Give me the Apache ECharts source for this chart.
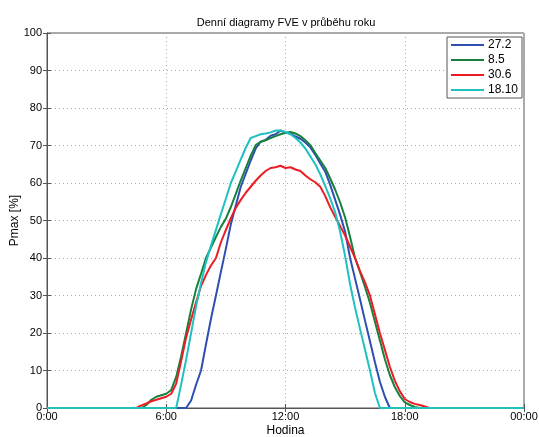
<!DOCTYPE html>
<html>
<head>
<meta charset="utf-8">
<script src="https://cdn.jsdelivr.net/npm/echarts@6/dist/echarts.min.js"></script>
<style>
html,body{margin:0;padding:0;background:#fff;}
#c{width:539px;height:437px;}
</style>
</head>
<body>
<div id="c"></div>
<script>
const chartTitle = 'Denní diagramy FVE v průběhu roku';
const seriesNames = ['27.2', '8.5', '30.6', '18.10'];
const xTickLabels = ['0:00', '6:00', '12:00', '18:00', '00:00'];
const hours = [0,
  4.5, 4.75, 5.0, 5.25, 5.5, 5.75, 6.0, 6.25, 6.5, 6.75,
  7.0, 7.25, 7.5, 7.75, 8.0, 8.25, 8.5, 8.75, 9.0, 9.25,
  9.5, 9.75, 10.0, 10.25, 10.5, 10.75, 11.0, 11.25, 11.5, 11.75,
  12.0, 12.25, 12.5, 12.75, 13.0, 13.25, 13.5, 13.75, 14.0, 14.25,
  14.5, 14.75, 15.0, 15.25, 15.5, 15.75, 16.0, 16.25, 16.5, 16.75,
  17.0, 17.25, 17.5, 17.75, 18.0, 18.25, 18.5, 18.75, 19.0, 19.25,
  19.5, 24];
const v27_2 = [0,
  0, 0, 0, 0, 0, 0, 0, 0, 0, 0,
  0, 2, 6.2, 10, 17, 23.8, 30, 36.3, 42.5, 49,
  54, 59, 62.5, 66, 69.2, 71, 71.5, 72.6, 73, 74,
  73.4, 73.2, 72.4, 71.8, 70.8, 69.5, 67.5, 65.2, 63, 59.5,
  55.5, 51.5, 47, 40, 34.5, 29, 23.3, 17.8, 12.2, 7,
  3, 0, 0, 0, 0, 0, 0, 0, 0, 0,
  0, 0];
const v8_5 = [0,
  0, 0, 0.8, 2.2, 3, 3.4, 3.8, 4.8, 8.3, 13.8,
  20, 26.3, 31.7, 35.8, 40, 42.8, 45.6, 48.3, 50.5, 53.6,
  57.1, 60.7, 64, 67.3, 70.1, 71, 71.4, 72, 72.5, 73,
  73.4, 73.6, 73.2, 72.5, 71.4, 70.1, 68, 66, 64, 61.2,
  58.2, 54.8, 50.8, 45.6, 40, 36.2, 32.3, 28, 23, 18,
  13, 8.8, 5.6, 3.2, 1.5, 0.8, 0.3, 0, 0, 0,
  0, 0];
const v30_6 = [0,
  0, 0.7, 1.2, 1.8, 2.2, 2.6, 3, 3.8, 6.5, 12.5,
  18.8, 23.6, 28.2, 32.5, 35.5, 38, 40, 44.2, 47.5, 50.6,
  53.4, 55.5, 57.4, 59, 60.6, 62, 63.2, 64, 64.2, 64.6,
  64, 64.2, 63.6, 63.2, 62, 61, 60.2, 59, 56.5, 53.5,
  51, 48.5, 46, 43, 40, 36.5, 33.5, 30, 25, 20,
  15.5, 11, 7.3, 4.5, 2.4, 1.6, 1.1, 0.8, 0.4, 0,
  0, 0];
const v18_10 = [0,
  0, 0, 0, 0, 0, 0, 0, 0, 0, 6.3,
  12.9, 20, 27.1, 33.3, 38.9, 43.3, 47.5, 51.7, 55.8, 60,
  63.1, 66.3, 69.4, 72, 72.5, 73, 73.2, 73.5, 74, 74,
  73.6, 73, 72, 70.8, 69.2, 67.1, 65, 62.3, 59.2, 55.9,
  52.2, 47, 40.5, 33, 26.7, 21.1, 15.6, 10, 4, 0,
  0, 0, 0, 0, 0, 0, 0, 0, 0, 0,
  0, 0];

const allValues = [v27_2, v8_5, v30_6, v18_10];
const colors = ['#2f4fb0', '#17803f', '#ec1c24', '#1fc0c0'];

const font = "'Liberation Sans', Arial, sans-serif";
const chart = echarts.init(document.getElementById('c'));
const gridLine = {show: true, lineStyle: {color: '#a8a8a8', type: [1, 3], width: 1}};
const frame = {show: true, lineStyle: {color: '#555', width: 1}};

chart.setOption({
  animation: false,
  backgroundColor: '#fff',
  title: {
    text: chartTitle, left: 281, top: 12, textAlign: 'center',
    textStyle: {fontFamily: font, fontSize: 11, fontWeight: 'normal', color: '#000'}
  },
  legend: {
    orient: 'vertical', left: 447, top: 37,
    data: seriesNames,
    itemWidth: 33, itemHeight: 12, itemGap: 3,
    padding: [2, 4, 2, 4],
    borderColor: '#555', borderWidth: 1, backgroundColor: '#fff',
    textStyle: {fontFamily: font, fontSize: 12, color: '#000', padding: [0, 0, 0, -1]},
    icon: 'path://M0,5 L33,5 L33,7 L0,7 Z'
  },
  grid: {left: 47, right: 15, top: 33, bottom: 29, show: true, borderColor: '#555', borderWidth: 1,
    outerBoundsMode: 'none', containLabel: false},
  xAxis: [{
    type: 'value', min: 0, max: 24, interval: 6,
    axisLine: frame,
    axisTick: {show: true, inside: true, length: 4, lineStyle: {color: '#555'}},
    axisLabel: {formatter: v => xTickLabels[Math.round(v / 6)], fontFamily: font, fontSize: 11, color: '#000', margin: 3},
    splitLine: gridLine,
    name: 'Hodina', nameLocation: 'middle', nameGap: 17, nameMoveOverlap: false,
    nameTextStyle: {fontFamily: font, fontSize: 12, color: '#000'}
  }, {
    type: 'value', position: 'top', min: 0, max: 24, interval: 6,
    axisLine: frame,
    axisTick: {show: true, inside: true, length: 4, lineStyle: {color: '#555'}},
    axisLabel: {show: false}, splitLine: {show: false}
  }],
  yAxis: [{
    type: 'value', min: 0, max: 100, interval: 10,
    axisLine: frame,
    axisTick: {show: true, inside: true, length: 4, lineStyle: {color: '#555'}},
    axisLabel: {fontFamily: font, fontSize: 11, color: '#000', margin: 5},
    splitLine: gridLine,
    name: 'Pmax [%]', nameLocation: 'middle', nameGap: 26, nameMoveOverlap: false,
    nameTextStyle: {fontFamily: font, fontSize: 12, color: '#000'}
  }, {
    type: 'value', position: 'right', min: 0, max: 100, interval: 10,
    axisLine: frame,
    axisTick: {show: true, inside: true, length: 4, lineStyle: {color: '#555'}},
    axisLabel: {show: false}, splitLine: {show: false}
  }],
  series: seriesNames.map((name, i) => ({
    name: name,
    type: 'line',
    xAxisIndex: 0, yAxisIndex: 0,
    showSymbol: false,
    symbol: 'none',
    color: colors[i],
    lineStyle: {width: 2, color: colors[i]},
    data: hours.map((h, k) => [h, allValues[i][k]])
  }))
});
</script>
</body>
</html>
